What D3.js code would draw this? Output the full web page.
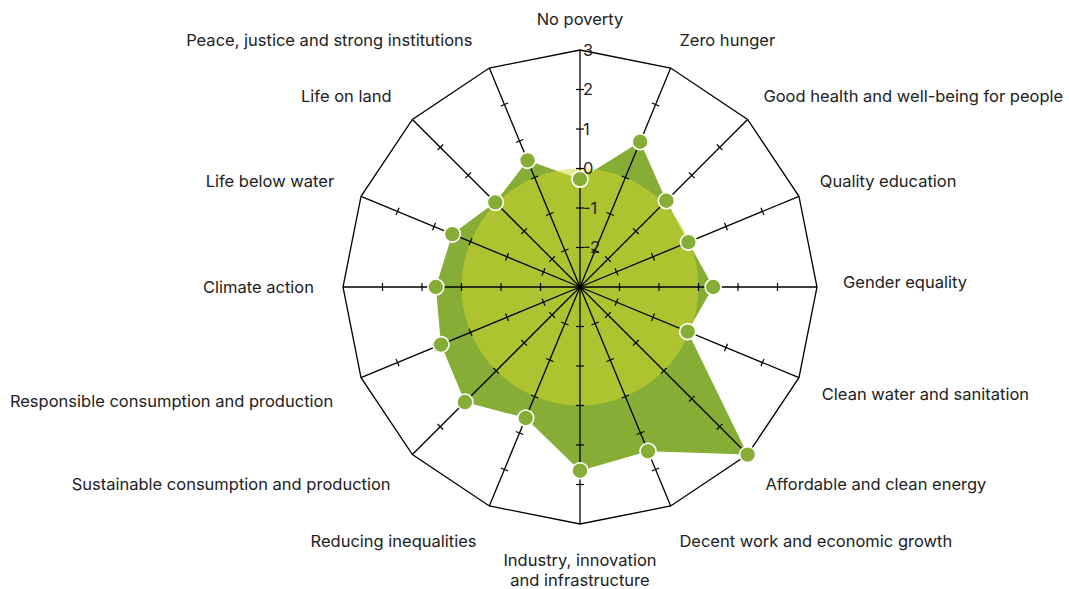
<!DOCTYPE html>
<meta charset="utf-8">
<style>
    body { margin: 0; background: #fff; }
    text { font-family: Inter, Roboto, "Noto Sans", sans-serif; fill: #222; }
</style>
<svg width="1069" height="589"></svg>
<script src="https://d3js.org/d3.v7.min.js"></script>
<script>
    // goals, clockwise from the top
    var goals = ["No poverty", "Zero hunger", "Good health and well-being for people", "Quality education",
        "Gender equality", "Clean water and sanitation", "Affordable and clean energy",
        "Decent work and economic growth", "Industry, innovation|and infrastructure", "Reducing inequalities",
        "Sustainable consumption and production", "Responsible consumption and production",
        "Climate action", "Life below water", "Life on land", "Peace, justice and strong institutions"];
    var scores = [-0.27, 0.98, 0.09, -0.03, 0.37, -0.05, 3.0, 1.5, 1.65, 0.59, 1.12, 0.81, 0.65, 0.5, 0.03, 0.47];
    var tickValues = [-2, -1, 0, 1, 2, 3];

    // small hand nudges for the goal labels
    var labelNudgeY = [-3, -2, -3, -4, -5, 6, 10, 9, 8, 9, 10, 13, 0, -4, -3, -2];
    var labelNudgeX = [0, 0, -2, -3, 0, -1, 0, 0, 0, 0, 0, 0, 1, 1, 1, -4];

    var svg = d3.select("svg"),
        cx = 580, cy = 287,
        outer = 237;

    var r = d3.scaleLinear().domain([-3, 3]).range([0, outer]);
    var angle = d3.scaleLinear().domain([0, goals.length]).range([0, 2 * Math.PI]);

    function pt(i, v) {
        var a = angle(i), rr = r(v);
        return [cx + rr * Math.sin(a), cy - rr * Math.cos(a)];
    }

    // filled score polygon
    svg.append("path")
        .attr("d", d3.line()(scores.map(function (d, i) { return pt(i, d); })) + "Z")
        .attr("fill", "#86ad35");

    // zero circle, translucent
    svg.append("circle")
        .attr("cx", cx).attr("cy", cy)
        .attr("r", r(0))
        .attr("fill", "#d4dc2c")
        .attr("fill-opacity", 0.5);

    // axes
    var axes = svg.append("g");
    goals.forEach(function (g, i) {
        var end = pt(i, 3);
        axes.append("line")
            .attr("x1", cx).attr("y1", cy)
            .attr("x2", end[0]).attr("y2", end[1])
            .attr("stroke", "#000").attr("stroke-width", 1.3);
        var a = angle(i);
        tickValues.slice(0, 5).forEach(function (t) {
            var p = pt(i, t), h = 4;
            axes.append("line")
                .attr("x1", p[0] - h * Math.cos(a)).attr("y1", p[1] - h * Math.sin(a))
                .attr("x2", p[0] + h * Math.cos(a)).attr("y2", p[1] + h * Math.sin(a))
                .attr("stroke", "#000").attr("stroke-width", 1.2);
        });
    });

    // outer ring
    svg.append("path")
        .attr("d", d3.line()(goals.map(function (d, i) { return pt(i, 3); })) + "Z")
        .attr("fill", "none")
        .attr("stroke", "#000")
        .attr("stroke-width", 1.3);

    // points
    svg.append("g")
        .selectAll("circle")
        .data(scores)
        .enter()
        .append("circle")
        .attr("cx", function (d, i) { return pt(i, d)[0]; })
        .attr("cy", function (d, i) { return pt(i, d)[1]; })
        .attr("r", 8)
        .attr("fill", "#86ad35")
        .attr("stroke", "#fff")
        .attr("stroke-width", 1.6);

    // tick labels on the top axis
    svg.append("g")
        .selectAll("text")
        .data(tickValues)
        .enter()
        .append("text")
        .attr("x", cx + 3)
        .attr("y", function (d) { return cy - r(d); })
        .attr("dy", "0.36em")
        .attr("font-size", 16.5)
        .text(function (d) { return d; });

    // goal labels
    var labelR = 265;
    goals.forEach(function (g, i) {
        var a = angle(i), s = Math.sin(a), c = Math.cos(a);
        var mid = Math.abs(s) < 0.01;
        var x = (mid ? cx : cx - 2 + labelR * s) + labelNudgeX[i],
            y = cy - labelR * c + labelNudgeY[i];
        var anchor = mid ? "middle" : (s > 0 ? "start" : "end");
        var lines = g.split("|");
        var t = svg.append("text")
            .attr("x", x)
            .attr("y", y)
            .attr("text-anchor", anchor)
            .attr("font-size", 16.5);
        lines.forEach(function (l, k) {
            t.append("tspan")
                .attr("x", x)
                .attr("dy", k === 0 ? "0.35em" : "1.22em")
                .text(l);
        });
    });
</script>
